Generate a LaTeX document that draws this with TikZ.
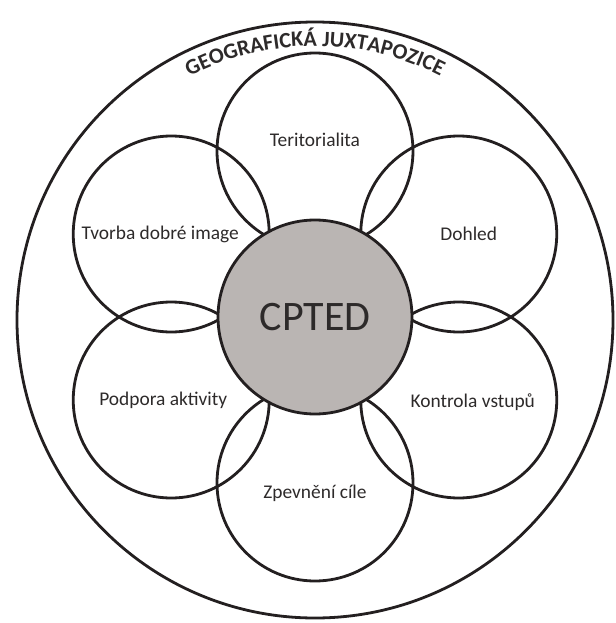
\documentclass[tikz,border=0pt]{standalone}
\usepackage{fontspec}
\setmainfont{Carlito}
\usetikzlibrary{decorations.text}

\definecolor{cptedgray}{RGB}{186,181,179}
\definecolor{inkline}{RGB}{35,31,32}
\definecolor{inktext}{RGB}{45,42,42}

\tikzset{
  petal/.style={circle, draw=inkline, line width=1.4pt, minimum size=98pt, inner sep=0pt},
  core/.style={circle, draw=inkline, fill=cptedgray, line width=1.4pt, minimum size=97pt,
    inner sep=0pt, text=inktext, font=\fontsize{21}{25}\selectfont},
  ring/.style={circle, draw=inkline, line width=1.4pt, minimum size=298pt, inner sep=0pt},
  lbl/.style={text=inktext, font=\fontsize{9.7}{11}\selectfont, inner sep=0pt}
}

\begin{document}
\begin{tikzpicture}
   \useasboundingbox (-157.5pt,-153pt) rectangle (150.5pt,158.5pt);
   \node[ring] (geo) at (0pt,-1.5pt) {};
   \node[petal] (teri) at (90:83pt) {};
   \node[petal] (dohled) at (30:83pt) {};
   \node[petal] (kontrola) at (-30:83pt) {};
   \node[petal] (zpevneni) at (-90:83pt) {};
   \node[petal] (podpora) at (210:83pt) {};
   \node[petal] (tvorba) at (150:83pt) {};
   \node[core] (cpted) at (0,0) {CPTED};
   \node[lbl] (teriText) at ([yshift=5.5pt]teri.center) {Teritorialita};
   \node[lbl] (dohledText) at ([xshift=5pt]dohled.center) {Dohled};
   \node[lbl] (kontrolaText) at ([xshift=7pt,yshift=-1pt]kontrola.center) {Kontrola vstupů};
   \node[lbl] (zpevneniText) at ([yshift=-5pt]zpevneni.center) {Zpevnění cíle};
   \node[lbl] (podporaText) at ([xshift=-4pt]podpora.center) {Podpora aktivity};
   \node[lbl] (tvorbaText) at ([xshift=-5.5pt]tvorba.center) {Tvorba dobré image};
   \path[decorate, decoration={text along path, text align=center, text color=inktext,
      text={|\bfseries\fontsize{11}{13}\selectfont|GEOGRAFICKÁ JUXTAPOZICE}}]
    ([shift={(118:137pt)}]geo.center) arc[start angle=118, end angle=62, radius=137pt];
\end{tikzpicture}
\end{document}
